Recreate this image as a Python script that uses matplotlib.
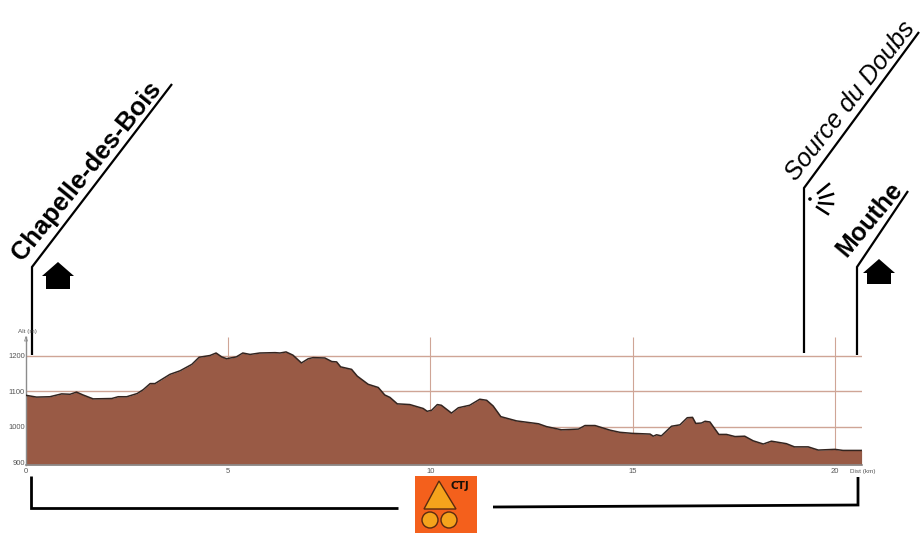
#Altitude profile of the stage, with place names drawn above it

import matplotlib
matplotlib.use("Agg")
import matplotlib.pyplot as plt
from matplotlib.patches import Polygon, Circle, Rectangle

W, H = 922, 533

dist_km = [0, 0.26, 0.59, 0.88, 1.09, 1.25, 1.41, 1.66, 2.12, 2.28, 2.49, 2.75, 2.9, 3.07, 3.19,
           3.56, 3.81, 4.1, 4.28, 4.55, 4.7, 4.84, 4.96, 5.2, 5.36, 5.54, 5.78, 6.16, 6.28, 6.43,
           6.6, 6.81, 6.98, 7.1, 7.39, 7.56, 7.68, 7.78, 8.05, 8.19, 8.46, 8.71, 8.87, 9.0, 9.18,
           9.49, 9.82, 9.92, 10.03, 10.17, 10.27, 10.52, 10.69, 10.97, 11.22, 11.39, 11.55, 11.74,
           12.13, 12.67, 12.87, 13.24, 13.66, 13.82, 14.07, 14.44, 14.68, 14.99, 15.43, 15.51,
           15.59, 15.71, 15.96, 16.17, 16.35, 16.48, 16.56, 16.7, 16.79, 16.91, 17.13, 17.32,
           17.53, 17.77, 17.98, 18.23, 18.43, 18.8, 19.0, 19.34, 19.59, 20.0, 20.2, 20.66]
alt_m = [1089, 1084, 1085, 1093, 1092, 1098, 1090, 1079, 1080, 1085, 1085, 1094, 1105, 1122, 1122,
         1148, 1158, 1176, 1196, 1201, 1208, 1197, 1192, 1197, 1208, 1204, 1208, 1209, 1208, 1211,
         1202, 1180, 1192, 1195, 1194, 1184, 1183, 1169, 1162, 1143, 1120, 1111, 1090, 1083, 1065,
         1063, 1052, 1044, 1047, 1063, 1061, 1039, 1054, 1061, 1078, 1075, 1059, 1029,
         1017, 1009, 1001, 992, 994, 1004, 1004, 991, 985, 982, 980, 974,
         978, 975, 1002, 1006, 1026, 1027, 1010, 1011, 1016, 1014, 979, 979,
         973, 974, 961, 952, 960, 953, 944, 944, 935, 937, 934, 934]
alt_ticks = [900, 1000, 1100, 1200]
dist_ticks = [0, 5, 10, 15, 20]

GRID = "#cfa596"
FILL = "#995a45"
GRAY = "#8c8c8c"
TXT = "#555555"

plt.rcParams["font.family"] = ["Liberation Sans", "DejaVu Sans"]
fig = plt.figure(figsize=(W / 100, H / 100), dpi=100)

#profile axes: x from 26 to 862 px, y from 465 to 337 px
ax = fig.add_axes([26 / W, 1 - 465 / H, 836 / W, 128 / H])
ax.set_xlim(0, 20.67)
ax.set_ylim(893, 1253)
ax.hlines(alt_ticks[1:], 0, 20.67, color=GRID, lw=1, zorder=1)
ax.vlines(dist_ticks[1:], 893, 1253, color=GRID, lw=0.8, zorder=1)
ax.fill_between(dist_km, alt_m, 893, color=FILL, lw=0, zorder=2)
ax.plot(dist_km, alt_m, color="#33241f", lw=1.1, zorder=3)
ax.plot([20.66, 20.66], [893, 934], color="#7d5a4e", lw=1, zorder=3)
for side in ["top", "right"]:
    ax.spines[side].set_visible(False)
ax.spines["left"].set_color(GRAY)
ax.spines["bottom"].set_color(GRAY)
ax.spines["left"].set_linewidth(1)
ax.spines["bottom"].set_linewidth(1.2)
ax.set_xticks(dist_ticks)
ax.set_yticks(alt_ticks)
ax.tick_params(axis="x", length=0, labelsize=5.5, labelcolor=TXT, pad=2.5)
ax.tick_params(axis="y", length=0, labelsize=5.5, labelcolor=TXT, pad=0.8)
ax.patch.set_alpha(0)

#overlay in pixels for the signs and the logo
ov = fig.add_axes([0, 0, 1, 1])
ov.set_xlim(0, W)
ov.set_ylim(H, 0)
ov.axis("off")
ov.patch.set_alpha(0)

ov.text(27, 331.5, "Alt (m)", fontsize=4.6, color=TXT, ha="center", va="center")
ov.text(862.5, 471, "Dist (km)", fontsize=4.6, color=TXT, ha="center", va="center")
ov.plot([26, 24.5, 27.5, 26], [337, 341, 341, 337], color=GRAY, lw=0.6)

def sign(xs, ys, width=1.6):
    ov.plot(xs, ys, color="black", lw=width, solid_capstyle="butt", solid_joinstyle="miter")

def house(cx, top, half, bottom):
    eave = top + 14
    body = half - 4
    ov.add_patch(Polygon([(cx, top), (cx + half, eave), (cx + body, eave), (cx + body, bottom),
                          (cx - body, bottom), (cx - body, eave), (cx - half, eave)],
                         closed=True, color="black", lw=0))

sign([32, 32, 172], [355, 267, 84])
sign([804, 804, 919], [353, 188, 32])
sign([857, 857, 908], [355, 267, 191])
sign([31, 31, 398], [476, 508, 508], 2)
sign([493, 858, 858], [507, 505, 477], 2)

ov.text(87, 171, "Chapelle-des-Bois", fontsize=18.4, fontweight="bold", rotation=51,
        rotation_mode="anchor", ha="center", va="center")
ov.text(850, 101, "Source du Doubs", fontsize=18.2, fontstyle="italic", rotation=52,
        rotation_mode="anchor", ha="center", va="center")
ov.text(870, 219, "Mouthe", fontsize=18, fontweight="bold", rotation=50,
        rotation_mode="anchor", ha="center", va="center")

house(58, 262, 16, 289)
house(879, 259, 16, 284)

#source symbol
ov.add_patch(Circle((810, 199), 1.8, color="black", lw=0))
for x0, y0, x1, y1 in [(818, 193, 829, 184), (820, 198, 833, 194), (819, 203, 833, 204), (817, 207, 828, 214)]:
    ov.plot([x0, x1], [y0, y1], color="black", lw=1.8)

#logo
ov.add_patch(Rectangle((415, 476), 62, 57, color="#f4601c", lw=0))
ov.add_patch(Polygon([(439, 481), (424, 509), (456, 509)], closed=True, fc="#f5a31c", ec="#5a2a10", lw=1))
ov.add_patch(Circle((430, 520), 8, fc="#f5a31c", ec="#5a2a10", lw=1))
ov.add_patch(Circle((449, 520), 8, fc="#f5a31c", ec="#5a2a10", lw=1))
ov.text(460, 486, "CTJ", fontsize=7.5, fontweight="bold", family=["DejaVu Sans"], color="#1a1008",
        ha="center", va="center")

fig.savefig("out.png", dpi=100)
